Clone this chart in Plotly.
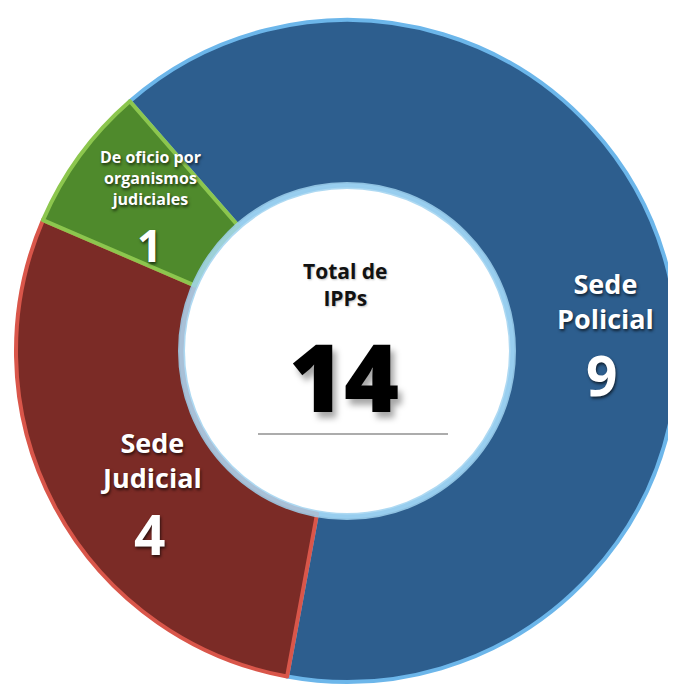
import plotly.graph_objects as go

# Data
categories = ["Sede Policial", "Sede Judicial", "De oficio por organismos judiciales"]
values = [9, 4, 1]
total = sum(values)

label_lines = [["Sede", "Policial"], ["Sede", "Judicial"], ["De oficio por", "organismos", "judiciales"]]
center_lines = ["Total de", "IPPs"]

colors = ["#2d5e8e", "#7b2b26", "#4f8a2c"]
edge_colors = ["#6cb6ea", "#d9564a", "#8cc64e"]

W, H = 676, 686
cx, cy, R = 339, 343, 331  # pixel centre / radius of the ring
hole = 0.50

fig = go.Figure()
fig.add_trace(go.Pie(
    labels=categories,
    values=values,
    sort=False,
    direction="clockwise",
    rotation=-41,
    hole=hole,
    marker=dict(colors=colors, line=dict(color=edge_colors, width=4)),
    textinfo="none",
    hoverinfo="label+value",
    showlegend=False,
    domain=dict(x=[(cx - R) / W, (cx + R) / W],
                y=[(H - cy - R) / H, (H - cy + R) / H]),
))

# light ring around the hole
r_in = R * hole
fig.add_shape(type="circle", xref="paper", yref="paper",
              x0=(cx - r_in) / W, x1=(cx + r_in) / W,
              y0=(H - cy - r_in) / H, y1=(H - cy + r_in) / H,
              line=dict(color="rgba(160,210,240,0.85)", width=7),
              fillcolor="rgba(0,0,0,0)")
# soft line under the total
fig.add_shape(type="line", xref="paper", yref="paper",
              x0=250 / W, x1=440 / W, y0=(H - 426) / H, y1=(H - 426) / H,
              line=dict(color="rgba(90,90,90,0.5)", width=2))

white_shadow = "1px 2px 3px rgba(0,0,0,0.65)"
FONT = "'Open Sans', sans-serif"
DY = -8  # compensation

def ann(text, x, y, size, color="white", shadow=white_shadow, weight=700):
    fig.add_annotation(text=text, x=x / W, y=1 - (y + DY) / H, xref="paper", yref="paper",
                       showarrow=False, xanchor="center", yanchor="middle",
                       align="center",
                       font=dict(family=FONT, size=size, color=color,
                                 weight=weight, shadow=shadow))

# Sede Policial
ann("<br>".join(label_lines[0]), 597, 301, 27)
ann(str(values[0]), 593, 374, 55)
# Sede Judicial
ann("<br>".join(label_lines[1]), 143, 460, 27)
ann(str(values[1]), 141, 533, 55)
# De oficio
ann("<br>".join(label_lines[2]), 142, 178, 16)
ann(str(values[2]), 141, 245, 44)
# Center
ann("<br>".join(center_lines), 337, 284, 21, color="#111111",
    shadow="1px 1px 2px rgba(0,0,0,0.25)")
ann(str(total), 336, 376, 94, color="#000000",
    shadow="4px 6px 6px rgba(0,0,0,0.35)", weight=800)

fig.update_layout(
    width=W, height=H,
    margin=dict(l=0, r=0, t=0, b=0),
    paper_bgcolor="white", plot_bgcolor="white",
)

fig.write_html("out.html")
